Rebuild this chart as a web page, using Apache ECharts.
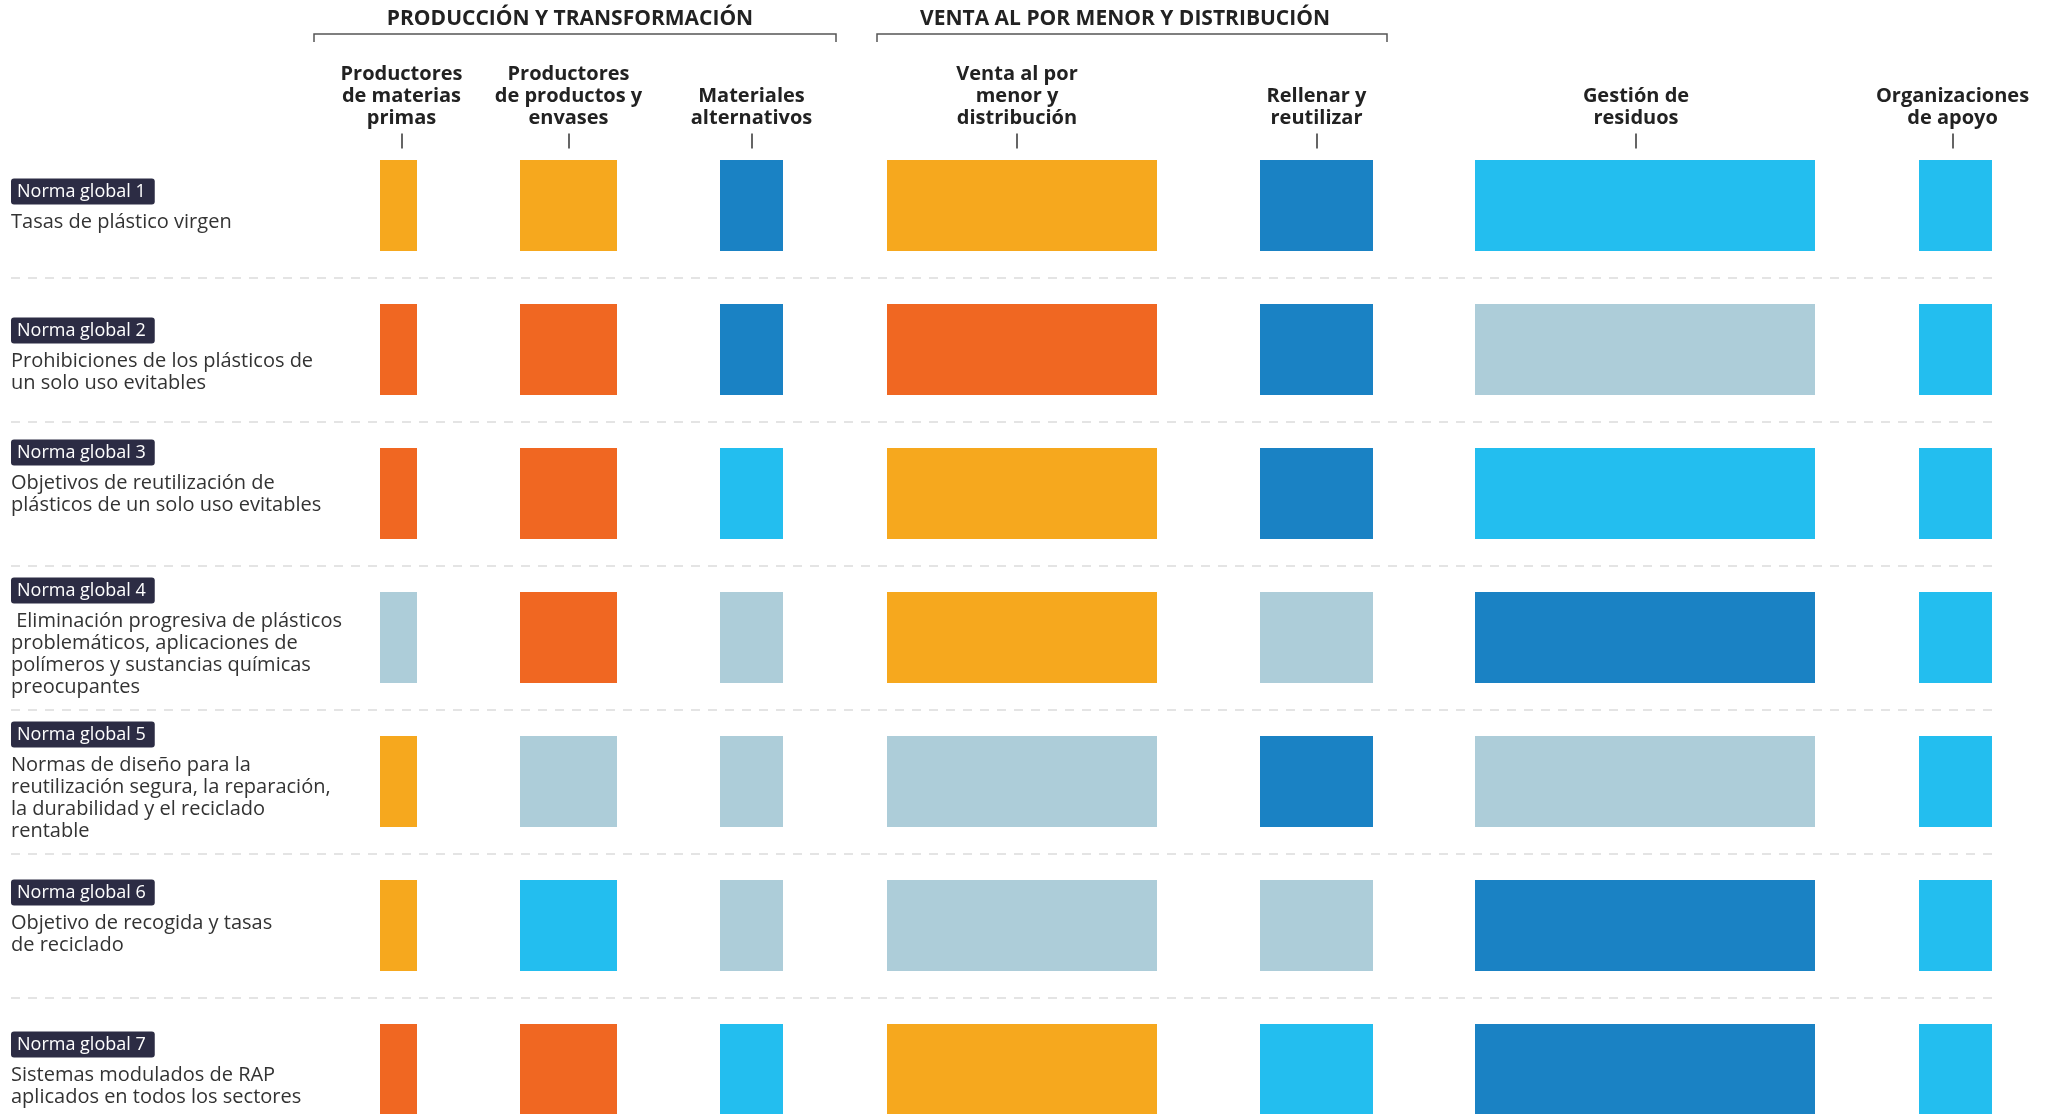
<!DOCTYPE html>
<html><head><meta charset="utf-8">
<script src="https://cdn.jsdelivr.net/npm/echarts@6/dist/echarts.min.js"></script>
<style>html,body{margin:0;padding:0;background:#fff}#c{width:2055px;height:1114px}</style>
</head><body><div id="c"></div>
<script>
// ---- data ----
const groupTitles = ['PRODUCCIÓN Y TRANSFORMACIÓN', 'VENTA AL POR MENOR Y DISTRIBUCIÓN'];
const actors = [
  'Productores\nde materias\nprimas',
  'Productores\nde productos y\nenvases',
  'Materiales\nalternativos',
  'Venta al por\nmenor y\ndistribución',
  'Rellenar y\nreutilizar',
  'Gestión de\nresiduos',
  'Organizaciones\nde apoyo'
];
const norms = ['Norma global 1','Norma global 2','Norma global 3','Norma global 4','Norma global 5','Norma global 6','Norma global 7'];
const normTexts = [
  ['Tasas de plástico virgen'],
  ['Prohibiciones de los plásticos de', 'un solo uso evitables'],
  ['Objetivos de reutilización de', 'plásticos de un solo uso evitables'],
  [' Eliminación progresiva de plásticos', 'problemáticos, aplicaciones de', 'polímeros y sustancias químicas', 'preocupantes'],
  ['Normas de diseño para la', 'reutilización segura, la reparación,', 'la durabilidad y el reciclado', 'rentable'],
  ['Objetivo de recogida y tasas', 'de reciclado'],
  ['Sistemas modulados de RAP', 'aplicados en todos los sectores']
];
// colour level for each actor (same order as actors), one array per norm
const norma1 = ['ambar','ambar','azul','ambar','azul','celeste','celeste'];
const norma2 = ['naranja','naranja','azul','naranja','azul','gris','celeste'];
const norma3 = ['naranja','naranja','celeste','ambar','azul','celeste','celeste'];
const norma4 = ['gris','naranja','gris','ambar','gris','azul','celeste'];
const norma5 = ['ambar','gris','gris','gris','azul','gris','celeste'];
const norma6 = ['ambar','celeste','gris','gris','gris','azul','celeste'];
const norma7 = ['naranja','naranja','celeste','ambar','celeste','azul','celeste'];
const normLevels = [norma1, norma2, norma3, norma4, norma5, norma6, norma7];

// ---- styles / layout ----
const levelColors = {ambar:'#F6A81E', naranja:'#F06722', gris:'#ADCDD9', celeste:'#23BEEF', azul:'#1A82C4'};
const FONT = 'Open Sans';
const TOP = 133.5, ROW = 144, BAR = 91;
const colLayout = [[380,37],[520,97],[720,63],[887,270],[1260,113],[1475,340],[1919,73]];
const headerShift = [3, 0, 0, -5, 0, -9, -3];
const labelShift = [2, 8, -14, 2, 2, -6, 2];

function shiftPad(s) { return s >= 0 ? [2 * s, 0, 0, 0] : [0, 0, -2 * s, 0]; }

const grids = [{left: 11, top: TOP, width: 1984, height: ROW * 7, outerBoundsMode: 'none'}];
const xAxes = [{gridIndex: 0, type: 'value', show: false}];
const yAxes = [{
  gridIndex: 0, type: 'category', inverse: true,
  data: norms.map((n, i) => ({value: n, textStyle: {padding: shiftPad(labelShift[i])}})),
  axisLine: {show: false}, axisTick: {show: false},
  splitLine: {show: true, showMinLine: false, showMaxLine: false, lineStyle: {type: [9, 8], color: '#e4e4e4', width: 2}},
  axisLabel: {
    inside: true, margin: 0, align: 'left', verticalAlign: 'middle',
    formatter: (v, i) => {
      let s = '{b|' + v + '}\n{sp| }';
      normTexts[i].forEach(l => { s += '\n{d|' + l + '}'; });
      return s;
    },
    rich: {
      b: {backgroundColor: '#2C2C44', color: '#fff', fontFamily: FONT, fontSize: 18, lineHeight: 19, padding: [4, 9, 4, 6], borderRadius: 3},
      sp: {fontSize: 1, lineHeight: 10},
      d: {color: '#333', fontFamily: FONT, fontWeight: 'normal', fontSize: 20, lineHeight: 22}
    }
  }
}];
const series = [];
actors.forEach((a, i) => {
  const g = i + 1;
  const sh = headerShift[i];
  grids.push({left: colLayout[i][0], width: colLayout[i][1], top: TOP, height: ROW * 7, outerBoundsMode: 'none'});
  xAxes.push({
    gridIndex: g, type: 'value', min: 0, max: 1, position: 'top',
    name: a, nameLocation: 'middle', nameGap: 4,
    nameTextStyle: {
      fontFamily: FONT, fontWeight: 'bold', fontSize: 20, lineHeight: 22, color: '#222', align: 'center',
      padding: sh >= 0 ? [0, 0, 0, 2 * sh] : [0, -2 * sh, 0, 0]
    },
    axisLine: {show: false}, axisLabel: {show: false}, splitLine: {show: false},
    axisTick: {show: true, inside: true, length: 15, customValues: [0.5 + sh / colLayout[i][1]], lineStyle: {color: '#333', width: 1.5}}
  });
  yAxes.push({gridIndex: g, type: 'category', data: norms, inverse: true, show: false});
  series.push({
    type: 'bar', xAxisIndex: g, yAxisIndex: g, barWidth: BAR, silent: true,
    data: normLevels.map(r => ({value: 1, itemStyle: {color: levelColors[r[i]]}}))
  });
});

const bracketStyle = {stroke: '#555', lineWidth: 1.5, fill: null};
const titleStyle = {align: 'center', verticalAlign: 'middle', fontFamily: FONT, fontWeight: 'bold', fontSize: 21, fill: '#222'};
const graphic = [
  {type: 'text', x: 570, y: 19.5, style: Object.assign({text: groupTitles[0]}, titleStyle)},
  {type: 'text', x: 1125, y: 19.5, style: Object.assign({text: groupTitles[1]}, titleStyle)},
  {type: 'polyline', shape: {points: [[314, 42], [314, 34], [836, 34], [836, 42]]}, style: bracketStyle},
  {type: 'polyline', shape: {points: [[877, 42], [877, 34], [1387, 34], [1387, 42]]}, style: bracketStyle}
];

const chart = echarts.init(document.getElementById('c'));
chart.setOption({
  backgroundColor: '#fff',
  animation: false,
  grid: grids, xAxis: xAxes, yAxis: yAxes, series: series, graphic: graphic
});
</script></body></html>
